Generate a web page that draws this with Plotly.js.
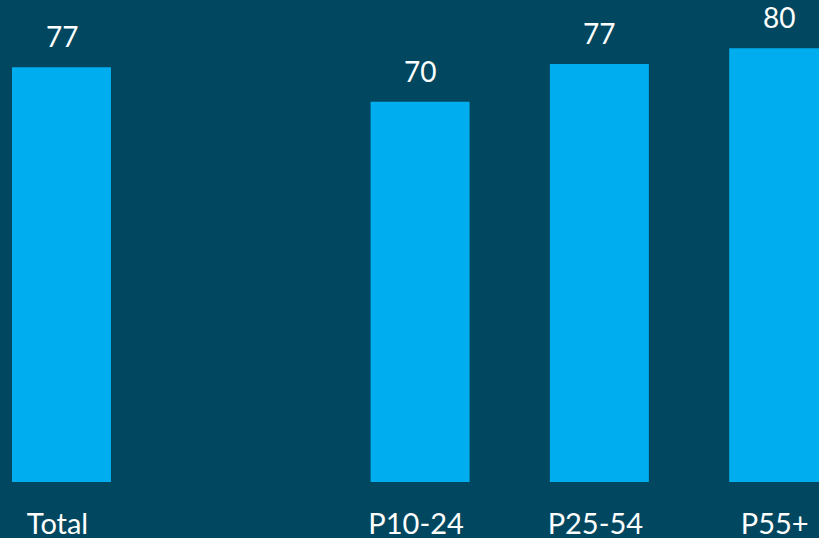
<!DOCTYPE html>
<html>
<head>
<meta charset="utf-8">
<script src="https://cdn.plot.ly/plotly-3.0.1.min.js"></script>
<style>
html,body{margin:0;padding:0;background:#01475f;}
#chart{width:819px;height:538px;}
</style>
</head>
<body>
<div id="chart"></div>
<script>
var categories = ['Total', ' ', 'P10-24', 'P25-54', 'P55+'];
var values = [76.6, null, 70.2, 77.2, 80.1];
var labels = ['77', '', '70', '77', '80'];

var bg = '#01475f';
var barColor = '#00aeef';
var fontFam = 'Lato, "Open Sans", sans-serif';

var trace = {
  type: 'bar',
  x: categories,
  y: values,
  marker: {color: barColor, line: {width: 0}},
  width: 0.552,
  hoverinfo: 'none'
};

var annotations = [];
for (var i = 0; i < categories.length; i++) {
  if (values[i] === null) continue;
  annotations.push({
    x: categories[i], y: values[i], xref: 'x', yref: 'y',
    text: labels[i], showarrow: false, yanchor: 'bottom', yshift: 12,
    font: {family: fontFam, size: 28, color: '#ffffff'}
  });
}

var layout = {
  width: 819, height: 538,
  margin: {l: 0, r: 0, t: 0, b: 56, pad: 0},
  paper_bgcolor: bg, plot_bgcolor: bg,
  showlegend: false,
  xaxis: {
    type: 'category',
    range: [-0.343, 4.225],
    showgrid: false, zeroline: false, showline: false,
    automargin: false,
    ticks: '', ticklabelshift: -4, ticklabelstandoff: 22,
    tickfont: {family: fontFam, size: 29, color: '#ffffff'},
    fixedrange: true
  },
  yaxis: {
    range: [0, 89],
    visible: false, showgrid: false, zeroline: false,
    fixedrange: true
  },
  annotations: annotations
};

Plotly.newPlot('chart', [trace], layout, {displayModeBar: false, staticPlot: true});
</script>
</body>
</html>
